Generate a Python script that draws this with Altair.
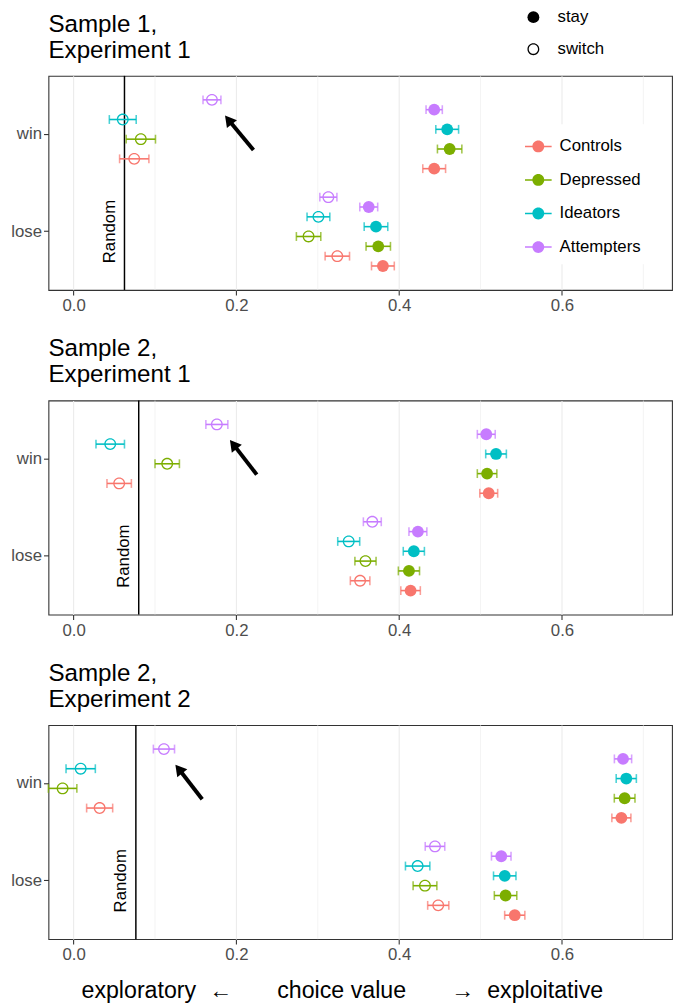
import altair as alt
import pandas as pd

groups = ["Controls", "Depressed", "Ideators", "Attempters"]
group_colors = ["#F8766D", "#7CAE00", "#00BFC4", "#C77CFF"]
outcomes = ["win", "lose"]
choices = ["stay", "switch"]
panel_titles = [["Sample 1,", "Experiment 1"], ["Sample 2,", "Experiment 1"], ["Sample 2,", "Experiment 2"]]

# values in group order: Controls, Depressed, Ideators, Attempters
s1e1_win_stay = [0.443, 0.462, 0.459, 0.443]
s1e1_win_stay_err = [0.014, 0.015, 0.014, 0.010]
s1e1_win_switch = [0.0745, 0.0826, 0.0604, 0.170]
s1e1_win_switch_err = [0.018, 0.018, 0.0165, 0.011]
s1e1_lose_stay = [0.380, 0.3743, 0.3715, 0.3626]
s1e1_lose_stay_err = [0.014, 0.015, 0.0145, 0.011]
s1e1_lose_switch = [0.324, 0.2887, 0.3008, 0.313]
s1e1_lose_switch_err = [0.015, 0.015, 0.014, 0.0105]

s2e1_win_stay = [0.510, 0.508, 0.519, 0.507]
s2e1_win_stay_err = [0.011, 0.012, 0.0127, 0.011]
s2e1_win_switch = [0.056, 0.115, 0.045, 0.176]
s2e1_win_switch_err = [0.015, 0.015, 0.0175, 0.0135]
s2e1_lose_stay = [0.414, 0.412, 0.418, 0.423]
s2e1_lose_stay_err = [0.012, 0.013, 0.013, 0.011]
s2e1_lose_switch = [0.352, 0.3586, 0.338, 0.367]
s2e1_lose_switch_err = [0.012, 0.013, 0.0135, 0.011]

s2e2_win_stay = [0.673, 0.677, 0.679, 0.675]
s2e2_win_stay_err = [0.0117, 0.0127, 0.0124, 0.0106]
s2e2_win_switch = [0.032, -0.0135, 0.0087, 0.111]
s2e2_win_switch_err = [0.016, 0.0175, 0.018, 0.013]
s2e2_lose_stay = [0.542, 0.5307, 0.5297, 0.5254]
s2e2_lose_stay_err = [0.0124, 0.0138, 0.0138, 0.012]
s2e2_lose_switch = [0.448, 0.4317, 0.4227, 0.444]
s2e2_lose_switch_err = [0.013, 0.0146, 0.015, 0.012]

random_level = [0.0625, 0.080, 0.0765]
arrow_tip = [0.186, 0.192, 0.125]
arrow_tail = [0.221, 0.225, 0.158]
x_ticks = [0.0, 0.2, 0.4, 0.6]
x_minor = [0.1, 0.3, 0.5, 0.7]
x_domain = [-0.0309, 0.7352]

panels = [
    {"win_stay": (s1e1_win_stay, s1e1_win_stay_err), "win_switch": (s1e1_win_switch, s1e1_win_switch_err),
     "lose_stay": (s1e1_lose_stay, s1e1_lose_stay_err), "lose_switch": (s1e1_lose_switch, s1e1_lose_switch_err)},
    {"win_stay": (s2e1_win_stay, s2e1_win_stay_err), "win_switch": (s2e1_win_switch, s2e1_win_switch_err),
     "lose_stay": (s2e1_lose_stay, s2e1_lose_stay_err), "lose_switch": (s2e1_lose_switch, s2e1_lose_switch_err)},
    {"win_stay": (s2e2_win_stay, s2e2_win_stay_err), "win_switch": (s2e2_win_switch, s2e2_win_switch_err),
     "lose_stay": (s2e2_lose_stay, s2e2_lose_stay_err), "lose_switch": (s2e2_lose_switch, s2e2_lose_switch_err)},
]

key_order = [f"{g}|{c}" for g in reversed(groups) for c in ["switch", "stay"]]

FONT = "Liberation Sans"
ring_path = ("M1,0A1,1 0 1,1 -1,0A1,1 0 1,1 1,0Z "
             "M0.78,0A0.78,0.78 0 1,0 -0.78,0A0.78,0.78 0 1,0 0.78,0Z")
legend_path = ("M-1,-0.056H1V0.056H-1Z "
               "M0.444,0A0.444,0.444 0 1,1 -0.444,0A0.444,0.444 0 1,1 0.444,0Z")

color_scale = alt.Scale(domain=groups, range=group_colors)
shape_scale = alt.Scale(domain=choices, range=["circle", ring_path])
x_scale = alt.Scale(domain=x_domain, nice=False, zero=False)
y_scale = alt.Scale(type="band", domain=outcomes, paddingInner=0, paddingOuter=0.1)
yoff_scale = alt.Scale(type="band", domain=key_order, paddingInner=0, paddingOuter=0.95)

x_title = ("exploratory\u00a0\u00a0←\u00a0\u00a0\u00a0\u00a0\u00a0\u00a0\u00a0choice value"
           "\u00a0\u00a0\u00a0\u00a0\u00a0\u00a0\u00a0→\u00a0\u00a0exploitative")


def make_panel(i):
    rows = []
    for cond, (means, errs) in panels[i].items():
        outcome, choice = cond.split("_")
        for g, m, e in zip(groups, means, errs):
            rows.append({"group": g, "outcome": outcome, "choice": choice,
                         "mean": m, "lo": m - e, "hi": m + e, "key": f"{g}|{choice}"})
    df = pd.DataFrame(rows)
    last = i == 2
    x_axis = alt.Axis(values=x_ticks, format=".1f", title=x_title if last else None,
                      titleFontSize=23.5, titleFontWeight="normal", titleColor="black",
                      titleAlign="left", titleX=33, titlePadding=16, titleFont=FONT,
                      labelFontSize=17, labelColor="#4D4D4D", labelPadding=3, labelFont=FONT,
                      tickColor="#333333", tickSize=5, tickWidth=1.1, domain=False,
                      gridColor="#EBEBEB", gridWidth=1.1)
    y_axis = alt.Axis(title=None, labelFontSize=17, labelColor="#4D4D4D", labelPadding=2,
                      labelFont=FONT, tickColor="#333333", tickSize=5, tickWidth=1.1,
                      domain=False, gridColor="#EBEBEB", gridWidth=1.1, bandPosition=0.5)

    def X(f):
        return alt.X(f, type="quantitative", scale=x_scale, axis=x_axis)

    def Y(f):
        return alt.Y(f, type="nominal", scale=y_scale, axis=y_axis, sort=outcomes)

    yoff = alt.YOffset("key:N", scale=yoff_scale, sort=key_order)
    if i == 0:
        color_legend = alt.Legend(title=None, orient="none", legendX=474, legendY=49,
                                  symbolType=legend_path, symbolSize=729, symbolStrokeWidth=0,
                                  symbolOpacity=1,
                                  labelFontSize=17, labelColor="black", labelFont=FONT,
                                  labelOffset=8, rowPadding=12, padding=9, fillColor="white")
        shape_legend = alt.Legend(title=None, orient="none", legendX=483, legendY=-68,
                                  symbolSize=144, symbolFillColor="black", symbolStrokeWidth=0,
                                  symbolOpacity=1,
                                  labelFontSize=17, labelColor="black", labelFont=FONT,
                                  labelOffset=16, rowPadding=14.5, padding=0)
        title_offset = -55.5
    else:
        color_legend = None
        shape_legend = None
        title_offset = 12.5
    color = alt.Color("group:N", scale=color_scale, legend=color_legend)

    minor = alt.Chart(pd.DataFrame({"v": x_minor})).mark_rule(
        color="#EBEBEB", strokeWidth=0.6).encode(x=X("v"))
    rnd_df = pd.DataFrame({"random": [random_level[i]], "outcome": ["lose"]})
    rnd_line = alt.Chart(rnd_df).mark_rule(color="black", strokeWidth=1.5).encode(x=X("random"))
    rnd_text = alt.Chart(rnd_df).mark_text(
        text="Random", angle=270, fontSize=17, font=FONT, color="black",
        baseline="alphabetic", align="center", xOffset=-9.5).encode(x=X("random"), y=Y("outcome"))

    base = alt.Chart(df)
    bars = base.mark_rule(strokeWidth=1.6).encode(x=X("lo"), x2="hi:Q", y=Y("outcome"), yOffset=yoff, color=color)
    cap_lo = base.mark_tick(thickness=1.6, size=9).encode(x=X("lo"), y=Y("outcome"), yOffset=yoff, color=color)
    cap_hi = base.mark_tick(thickness=1.6, size=9).encode(x=X("hi"), y=Y("outcome"), yOffset=yoff, color=color)
    pts = base.mark_point(filled=True, opacity=1, strokeWidth=0, size=144).encode(
        x=X("mean"), y=Y("outcome"), yOffset=yoff, color=color,
        shape=alt.Shape("choice:N", scale=shape_scale, legend=shape_legend))

    arr_df = pd.DataFrame({"tip": [arrow_tip[i]], "tail": [arrow_tail[i]], "outcome": ["win"]})
    arr_line = alt.Chart(arr_df).mark_rule(
        color="black", strokeWidth=4, yOffset=16, y2Offset=-13.2, x2Offset=4.7).encode(
        x=X("tail"), x2="tip:Q", y=Y("outcome"), y2="outcome:N")
    arr_head = alt.Chart(arr_df).mark_point(
        shape="triangle", filled=True, color="black", opacity=1, size=169, angle=321.5,
        xOffset=4.7, yOffset=-13.2).encode(x=X("tip"), y=Y("outcome"))

    return alt.layer(minor, rnd_line, bars, cap_lo, cap_hi, pts, arr_line, arr_head, rnd_text).properties(
        width=632, height=217,
        title=alt.TitleParams(text=panel_titles[i], anchor="start", frame="group", fontSize=24.5,
                              fontWeight="normal", color="black", lineHeight=26,
                              offset=title_offset, font=FONT))


chart = alt.vconcat(make_panel(0), make_panel(1), make_panel(2), spacing=21).resolve_legend(
    color="independent", shape="independent"
).properties(padding={"left": 2, "top": -7, "right": 0, "bottom": 0}).configure(
    font=FONT).configure_view(stroke="#333333", strokeWidth=1.1)

chart.save("out.html", embed_options={"renderer": "svg", "actions": False})
